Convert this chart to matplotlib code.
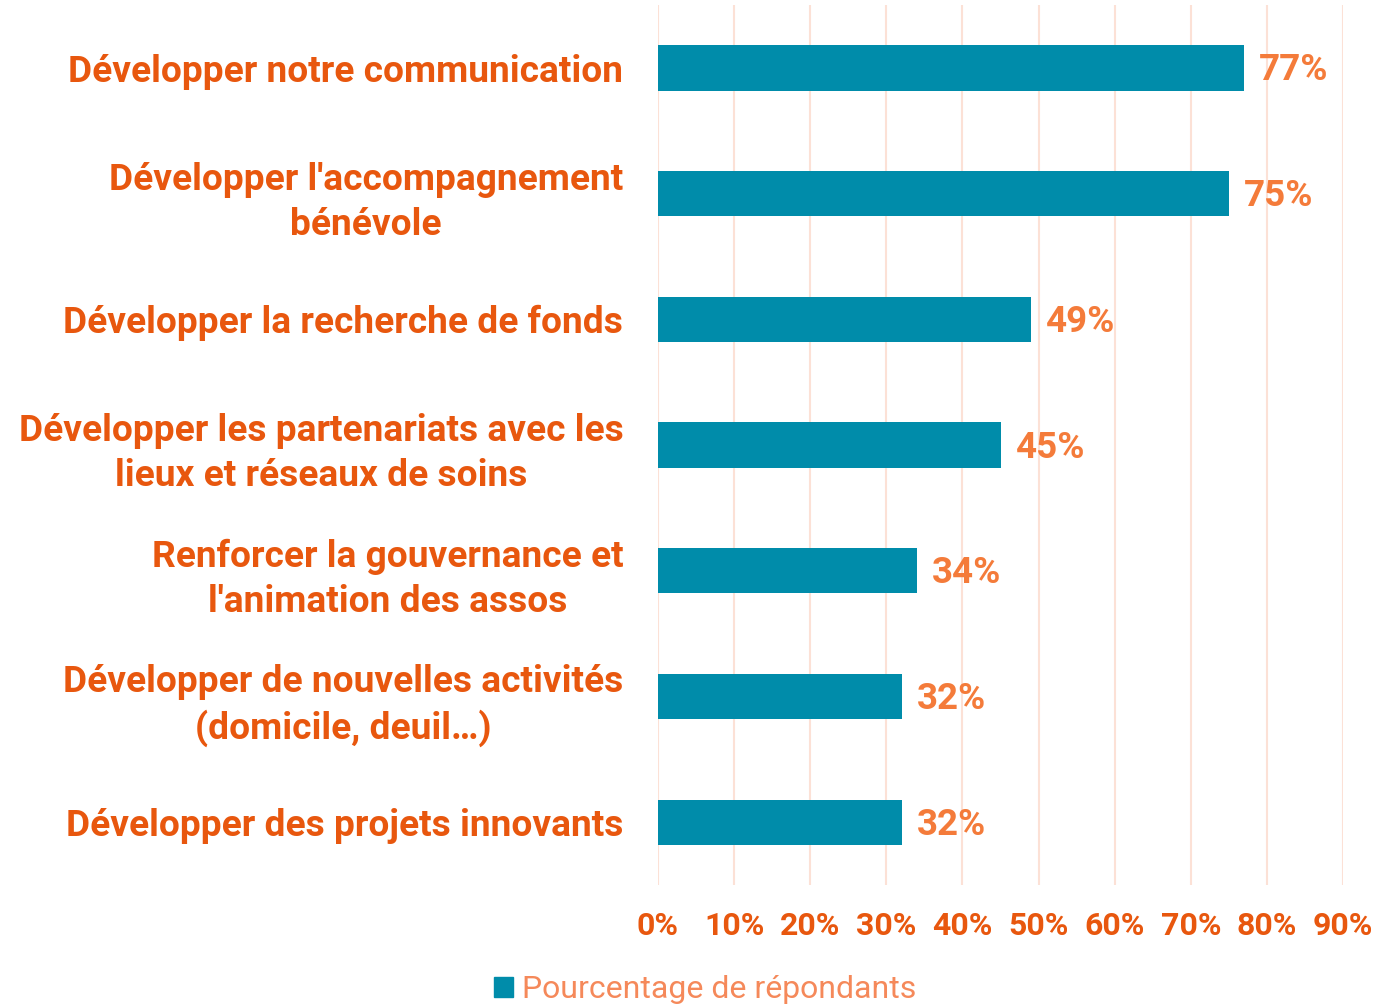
import matplotlib
matplotlib.use("Agg")
import matplotlib.pyplot as plt
from matplotlib.patches import Patch

plt.rcParams['font.family'] = ['Roboto', 'DejaVu Sans']

categories = [
    "Développer notre communication",
    "Développer l'accompagnement\nbénévole",
    "Développer la recherche de fonds",
    "Développer les partenariats avec les\nlieux et réseaux de soins",
    "Renforcer la gouvernance et\nl'animation des assos",
    "Développer de nouvelles activités\n(domicile, deuil…)",
    "Développer des projets innovants",
]
values = [77, 75, 49, 45, 34, 32, 32]
xticks = [0, 10, 20, 30, 40, 50, 60, 70, 80, 90]
series_name = "Pourcentage de répondants"

bar_color = "#008CAA"
label_color = "#E8570E"
value_color = "#F47B3A"
legend_color = "#F5895A"
grid_color = "#FCE1D6"

fig = plt.figure(figsize=(13.8, 10.05), dpi=100)
ax = fig.add_axes([0.4768, 0.1194, 0.4964, 0.8756])

ypos = list(range(len(categories)))
ax.barh(ypos, values, height=0.36, color=bar_color, zorder=3)

for y, v in zip(ypos, values):
    ax.text(v + 2.0, y + 0.02, f"{v}%", va='center', ha='left', fontsize=26.5,
            fontweight='bold', color=value_color)

ax.set_xlim(0, 90)
ax.set_ylim(len(categories) - 0.5, -0.5)
ax.set_xticks(xticks)
ax.set_xticklabels([f"{t}%" for t in xticks], fontsize=23, fontweight='bold',
                   color=label_color)
ax.set_yticks(ypos)
ax.set_yticklabels(categories, fontsize=26.7, fontweight='bold', color=label_color,
                   multialignment='center', linespacing=1.32)
ax.tick_params(axis='x', length=0, pad=19)
ax.tick_params(axis='y', length=0, pad=25)

ax.grid(axis='x', color=grid_color, linewidth=1.5, zorder=0)
for s in ax.spines.values():
    s.set_visible(False)

leg = fig.legend(handles=[Patch(color=bar_color, label=series_name)],
                 loc='lower center', bbox_to_anchor=(0.511, -0.028), frameon=False,
                 fontsize=23, handlelength=0.6, handleheight=0.6, handletextpad=0.3)
for t in leg.get_texts():
    t.set_color(legend_color)

fig.savefig("out.png", dpi=100)
